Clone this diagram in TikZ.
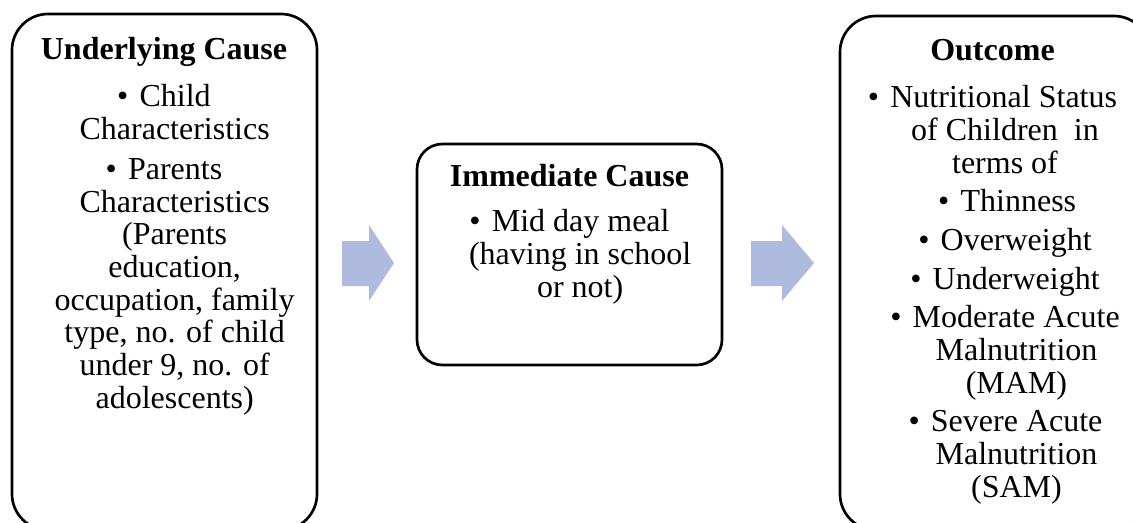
\documentclass[tikz,border=0pt]{standalone}
\usepackage{fontspec}
\setmainfont{Liberation Serif}
\definecolor{arrowblue}{RGB}{174,186,222}

\begin{document}
\begin{tikzpicture}[x=0.75pt,y=-0.75pt,
 box/.style ={draw=black,line width=2pt,inner sep=0pt},
 boxtext/.style ={align=center,anchor=base,inner sep=0pt,font=\fontsize{24}{24.5}\selectfont},
 flow/.style ={fill=arrowblue}
 ]
\useasboundingbox (0,0) rectangle (1133,522);
%draw underlying cause box
\node[box,rounded corners=27pt,minimum width=228.75pt,minimum height=387pt] (under) at (164.5,272) {};
\node[boxtext] (undertext) at (164,408) {\textbf{Underlying Cause}\\[10.8pt]
 \textbullet\hspace{0.35em}Child\\
 \hspace*{16pt}Characteristics\\[5.6pt]
 \textbullet\hspace{0.35em}Parents\\
 \hspace*{16pt}Characteristics\\
 \hspace*{16pt}(Parents\\
 \hspace*{16pt}education,\\
 \hspace*{16pt}occupation, family\\
 \hspace*{16pt}type, no. of child\\
 \hspace*{16pt}under 9, no. of\\
 \hspace*{16pt}adolescents)};
%draw immediate cause box
\node[box,rounded corners=19pt,minimum width=228.75pt,minimum height=165.75pt] (immediate) at (569.5,254.5) {};
\node[boxtext] (immediatetext) at (569.5,297) {\textbf{Immediate Cause}\\[9.5pt]
 \textbullet\hspace{0.35em}Mid day meal\\
 \hspace*{16pt}(having in school\\
 \hspace*{16pt}or not)};
%draw outcome box
\node[box,rounded corners=27pt,minimum width=232.5pt,minimum height=385.5pt] (outcome) at (995,273) {};
\node[boxtext] (outcometext) at (992.5,497) {\textbf{Outcome}\\[10.8pt]
 \textbullet\hspace{0.35em}Nutritional Status\\
 \hspace*{18.75pt}of Children~~in\\
 \hspace*{18.75pt}terms of\\[4.5pt]
 \hspace*{22pt}\textbullet\hspace{0.35em}Thinness\\[4.5pt]
 \hspace*{18.75pt}\textbullet\hspace{0.35em}Overweight\\[4.5pt]
 \hspace*{18.75pt}\textbullet\hspace{0.35em}Underweight\\[4.5pt]
 \hspace*{18.75pt}\textbullet\hspace{0.35em}Moderate Acute\\
 \hspace*{36pt}Malnutrition\\
 \hspace*{36pt}(MAM)\\[4.5pt]
 \hspace*{19.5pt}\textbullet\hspace{0.35em}Severe Acute\\
 \hspace*{36pt}Malnutrition\\
 \hspace*{36pt}(SAM)};
%draw arrow underlying -> immediate
\coordinate (flow1) at (342,241);
\fill[flow] (flow1) -- ++(27,0) -- ++(0,-16) -- ++(25,38) -- ++(-25,38) -- ++(0,-15) -- ++(-27,0) -- cycle;
%draw arrow immediate -> outcome
\coordinate (flow2) at (751,241);
\fill[flow] (flow2) -- ++(31,0) -- ++(0,-16) -- ++(32,38) -- ++(-32,38) -- ++(0,-15) -- ++(-31,0) -- cycle;
\end{tikzpicture}
\end{document}
